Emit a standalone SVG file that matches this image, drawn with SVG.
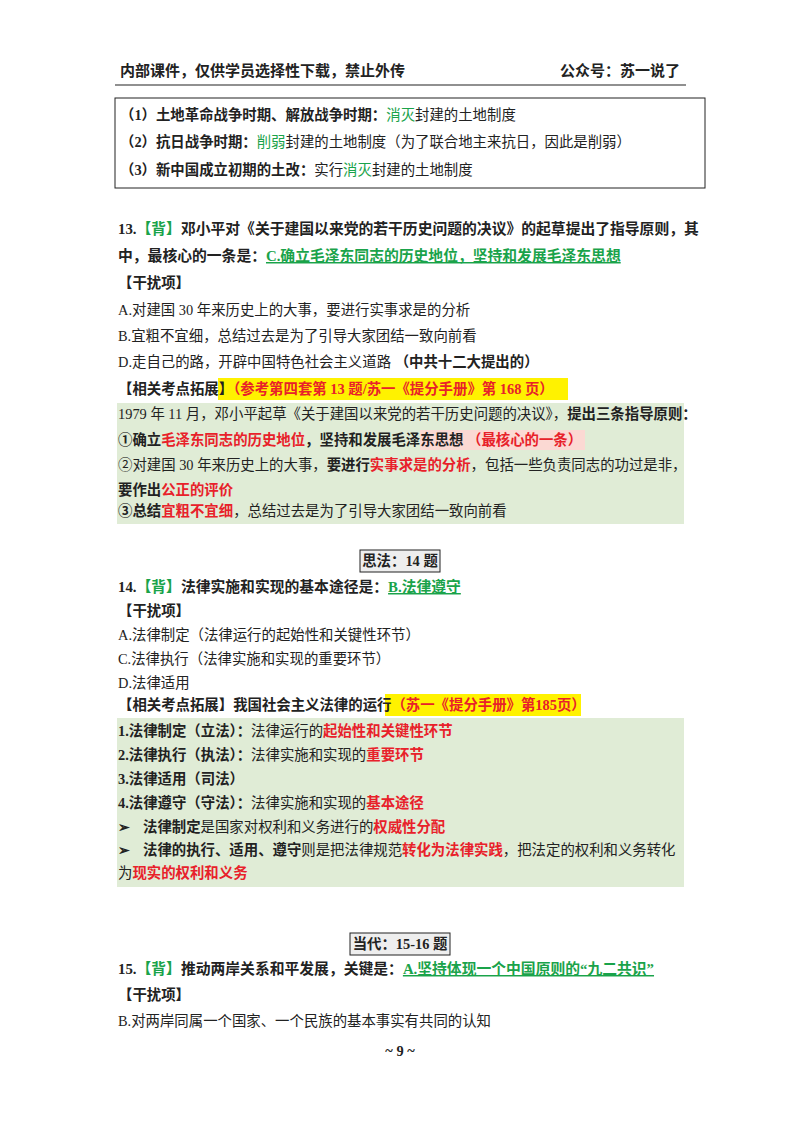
<svg xmlns="http://www.w3.org/2000/svg" width="800" height="1132" viewBox="0 0 800 1132">
<style>
text{font-family:"Liberation Serif","Noto Sans CJK SC",serif;font-size:14.4px;fill:#222}
.b{font-weight:bold}
.r{fill:#e8212a;font-weight:bold}
.g{fill:#1aa34a}
.gb{fill:#e0ecd6}
.y{fill:#fff200}
.h{font-size:15px;font-weight:bold}
.q{font-size:14.8px;font-weight:bold}
</style>
<rect width="800" height="1132" fill="#fff"/>
<text x="120" y="76" class="h">内部课件，仅供学员选择性下载，禁止外传</text>
<text x="680" y="76" class="h" text-anchor="end">公众号：苏一说了</text>
<line x1="115" y1="85" x2="686" y2="85" stroke="#222" stroke-width="1.2"/>
<rect x="115" y="98" width="590" height="90" fill="none" stroke="#222"/>
<text x="120" y="120"><tspan class="b">（1）土地革命战争时期、解放战争时期：</tspan><tspan class="g">消灭</tspan>封建的土地制度</text>
<text x="120" y="147"><tspan class="b">（2）抗日战争时期：</tspan><tspan class="g">削弱</tspan>封建的土地制度（为了联合地主来抗日，因此是削弱）</text>
<text x="120" y="175"><tspan class="b">（3）新中国成立初期的土改：</tspan>实行<tspan class="g">消灭</tspan>封建的土地制度</text>

<text x="118" y="234" class="q">13.<tspan class="g">【背】</tspan>邓小平对《关于建国以来党的若干历史问题的决议》的起草提出了指导原则，其</text>
<text x="118" y="261" class="q">中，最核心的一条是：<tspan class="g" text-decoration="underline">C.确立毛泽东同志的历史地位，坚持和发展毛泽东思想</tspan></text>
<text x="118" y="288" class="b">【干扰项】</text>
<text x="118" y="315">A.对建国 30 年来历史上的大事，要进行实事求是的分析</text>
<text x="118" y="341">B.宜粗不宜细，总结过去是为了引导大家团结一致向前看</text>
<text x="118" y="367">D.走自己的路，开辟中国特色社会主义道路 <tspan class="b">（中共十二大提出的）</tspan></text>
<rect x="218" y="378" width="350" height="22" class="y"/>
<text x="118" y="394" class="b">【相关考点拓展】<tspan class="r">（参考第四套第 13 题/苏一《提分手册》第 168 页）</tspan></text>
<rect x="117" y="403" width="567" height="121" class="gb"/>
<rect x="420" y="430" width="165" height="20" fill="#fbd9d3"/>
<text x="118" y="419">1979 年 11 月，邓小平起草《关于建国以来党的若干历史问题的决议》，<tspan class="b">提出三条指导原则：</tspan></text>
<text x="118" y="445" class="b">①确立<tspan class="r">毛泽东同志的历史地位</tspan>，坚持和发展毛泽东思想 <tspan class="r">（最核心的一条）</tspan></text>
<text x="118" y="470">②对建国 30 年来历史上的大事，<tspan class="b">要进行</tspan><tspan class="r">实事求是的分析</tspan>，包括一些负责同志的功过是非，</text>
<text x="118" y="495" class="b">要作出<tspan class="r">公正的评价</tspan></text>
<text x="118" y="516"><tspan class="b">③总结</tspan><tspan class="r">宜粗不宜细</tspan>，总结过去是为了引导大家团结一致向前看</text>

<rect x="360" y="550" width="80" height="22" fill="#eee" stroke="#222"/>
<text x="400" y="566" class="b" text-anchor="middle">思法：14 题</text>
<text x="118" y="592" class="q">14.<tspan class="g">【背】</tspan>法律实施和实现的基本途径是：<tspan class="g" text-decoration="underline">B.法律遵守</tspan></text>
<text x="118" y="616" class="b">【干扰项】</text>
<text x="118" y="640">A.法律制定（法律运行的起始性和关键性环节）</text>
<text x="118" y="664">C.法律执行（法律实施和实现的重要环节）</text>
<text x="118" y="688">D.法律适用</text>
<rect x="385" y="694" width="196" height="22" class="y"/>
<text x="118" y="710" class="b">【相关考点拓展】我国社会主义法律的运行<tspan class="r">（苏一《提分手册》第185页）</tspan></text>
<rect x="117" y="718" width="567" height="169" class="gb"/>
<text x="118" y="736"><tspan class="b">1.法律制定（立法）：</tspan>法律运行的<tspan class="r">起始性和关键性环节</tspan></text>
<text x="118" y="760"><tspan class="b">2.法律执行（执法）：</tspan>法律实施和实现的<tspan class="r">重要环节</tspan></text>
<text x="118" y="784" class="b">3.法律适用（司法）</text>
<text x="118" y="808"><tspan class="b">4.法律遵守（守法）：</tspan>法律实施和实现的<tspan class="r">基本途径</tspan></text>
<text x="118" y="832"><tspan class="b">➢</tspan><tspan x="143" class="b">法律制定</tspan>是国家对权利和义务进行的<tspan class="r">权威性分配</tspan></text>
<text x="118" y="855"><tspan class="b">➢</tspan><tspan x="143" class="b">法律的执行、适用、遵守</tspan>则是把法律规范<tspan class="r">转化为法律实践</tspan>，把法定的权利和义务转化</text>
<text x="118" y="878">为<tspan class="r">现实的权利和义务</tspan></text>

<rect x="350" y="933" width="100" height="22" fill="#eee" stroke="#222"/>
<text x="400" y="949" class="b" text-anchor="middle">当代：15-16 题</text>
<text x="118" y="974" class="q">15.<tspan class="g">【背】</tspan>推动两岸关系和平发展，关键是：<tspan class="g" text-decoration="underline">A.坚持体现一个中国原则的“九二共识”</tspan></text>
<text x="118" y="1000" class="b">【干扰项】</text>
<text x="118" y="1026">B.对两岸同属一个国家、一个民族的基本事实有共同的认知</text>
<text x="400" y="1056" class="b" text-anchor="middle" font-size="15">~ 9 ~</text>
</svg>
